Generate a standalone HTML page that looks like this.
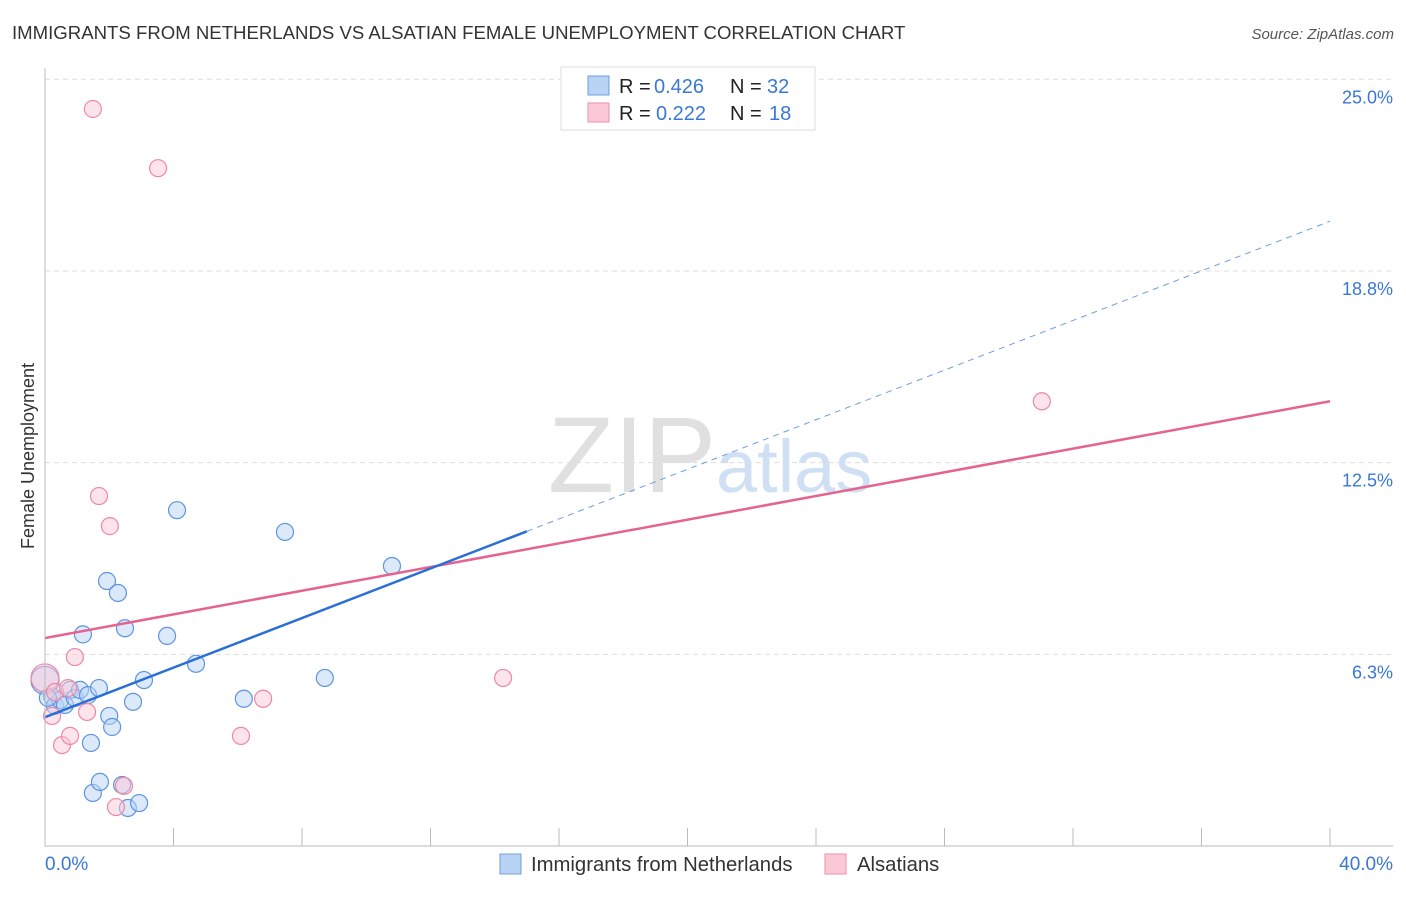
<!DOCTYPE html>
<html><head><meta charset="utf-8"><style>
body{margin:0;background:#fff;font-family:"Liberation Sans",sans-serif;}
svg text{font-family:"Liberation Sans",sans-serif;}
</style></head><body>
<svg width="1406" height="892" id="chart">
<text x="12" y="39" font-size="18.6" fill="#333">IMMIGRANTS FROM NETHERLANDS VS ALSATIAN FEMALE UNEMPLOYMENT CORRELATION CHART</text>
<text x="1394" y="39" font-size="15" fill="#555" font-style="italic" text-anchor="end">Source: ZipAtlas.com</text>
<text x="34" y="456" font-size="18" fill="#333" text-anchor="middle" transform="rotate(-90 34 456)">Female Unemployment</text>
<g id="grid"></g>
<text x="716" y="492" font-size="108" fill="#e0e0e0" font-family="Liberation Serif" text-anchor="end">ZIP</text>
<text x="716" y="492" font-size="74" fill="#cfdff4">atlas</text>
<g id="marks"></g>
<g>
<rect x="561" y="67" width="254" height="63" fill="#fff" stroke="#ddd"/>
<rect x="588" y="76" width="21" height="19" fill="#b9d3f5" stroke="#6a9fe0"/>
<rect x="588" y="103" width="21" height="19" fill="#fbc8d6" stroke="#ee8fae"/>
<text x="619" y="93" font-size="20" fill="#222">R =</text>
<text x="654" y="93" font-size="20" fill="#3a78d4">0.426</text>
<text x="730" y="93" font-size="20" fill="#222">N =</text>
<text x="767" y="93" font-size="20" fill="#3a78d4">32</text>
<text x="619" y="120" font-size="20" fill="#222">R =</text>
<text x="656" y="120" font-size="20" fill="#3a78d4">0.222</text>
<text x="730" y="120" font-size="20" fill="#222">N =</text>
<text x="769" y="120" font-size="20" fill="#3a78d4">18</text>
</g>
<g>
<rect x="500" y="854" width="21" height="20" fill="#b9d3f5" stroke="#6a9fe0"/>
<text x="531" y="871" font-size="20.3" fill="#333">Immigrants from Netherlands</text>
<rect x="825" y="854" width="21" height="20" fill="#fbc8d6" stroke="#ee8fae"/>
<text x="857" y="871" font-size="20.3" fill="#333">Alsatians</text>
</g>
</svg>
<script>
const yTicks=[6.3,12.5,18.8,25.0];
const yTickVals=[6.25,12.5,18.75,25];
const xTickLabels=["0.0%","40.0%"];
const blueX=[0,0.22,0.31,0.47,0.62,0.78,0.93,1.09,1.34,1.18,1.43,1.49,1.68,1.71,1.93,2.0,2.09,2.27,2.4,2.49,2.58,2.74,2.93,3.08,3.8,4.11,4.7,6.19,7.47,8.71,10.8,0.09];
const blueY=[5.4,4.87,4.57,4.76,4.6,5.09,4.83,5.09,4.92,6.9,3.36,1.73,5.15,2.09,8.64,4.24,3.88,8.25,1.99,7.1,1.24,4.7,1.4,5.41,6.85,10.95,5.94,4.8,10.24,5.48,9.13,4.83];
const pinkX=[0,0.31,0.22,0.53,0.78,0.72,0.93,1.31,1.49,1.68,2.02,2.21,2.46,3.52,6.1,6.79,14.26,31.03];
const pinkY=[5.48,5.02,4.24,3.29,3.59,5.15,6.16,4.37,24.03,11.41,10.43,1.27,1.96,22.1,3.59,4.8,5.48,14.5];
const blueTrend=[[0,4.2],[15,10.26]];
const blueDash=[[15,10.26],[40,20.37]];
const pinkTrend=[[0,6.78],[40,14.5]];
const X=v=>45+v*32.125, Y=v=>846-v*30.67;
const NS="http://www.w3.org/2000/svg";
const grid=document.getElementById('grid'), marks=document.getElementById('marks'), svg=document.getElementById('chart');
function mk(t,a,p){const e=document.createElementNS(NS,t);for(const k in a)e.setAttribute(k,a[k]);(p||svg).appendChild(e);return e;}
yTickVals.forEach((v,i)=>{
 const l=mk('line',{x1:45,y1:Y(v),x2:1393,y2:Y(v),stroke:'#ddd','stroke-dasharray':'5,4'},grid);
 
 
 const t=mk('text',{x:1393,y:Y(v)+24,'font-size':18,fill:'#3a78d4','text-anchor':'end'});
 t.textContent=yTicks[i].toFixed(1)+'%';
 
 
});
const ya=mk('line',{x1:45,y1:68,x2:45,y2:846,stroke:'#bbb'});


const xa=mk('line',{x1:45,y1:846,x2:1393,y2:846,stroke:'#bbb'});


for(let i=0;i<=10;i++){const t=mk('line',{x1:X(i*4),y1:828,x2:X(i*4),y2:846,stroke:'#bbb'});
 
 }
[[0,'start',45],[40,'end',1393]].forEach((d,i)=>{const t=mk('text',{x:d[2],y:870,'font-size':19,fill:'#3a78d4','text-anchor':d[1]});t.textContent=xTickLabels[i];
 
 });
function dots(xs,ys,fill,stroke,name){xs.forEach((x,i)=>{const c=mk('circle',{cx:X(x),cy:Y(ys[i]),r:i==0?14:8.5,fill,stroke,'fill-opacity':0.5,'stroke-width':1.2},marks);
 
 });}
dots(blueX,blueY,'#b9d3f5','#5d94e0','netherlands-point');
dots(pinkX,pinkY,'#fbc8d6','#ec88a8','alsatian-point');
function ln(p,col,w,dash,name){const l=mk('line',{x1:X(p[0][0]),y1:Y(p[0][1]),x2:X(p[1][0]),y2:Y(p[1][1]),stroke:col,'stroke-width':w},marks);if(dash)l.setAttribute('stroke-dasharray',dash);
 
 }
ln(pinkTrend,'#e56390',2.5,null,'alsatian-trendline');
ln(blueTrend,'#2a6fd6',2.5,null,'netherlands-trendline');
ln(blueDash,'#6a9fe0',1,'6,5','netherlands-trend-extension');
</script>
</body></html>
